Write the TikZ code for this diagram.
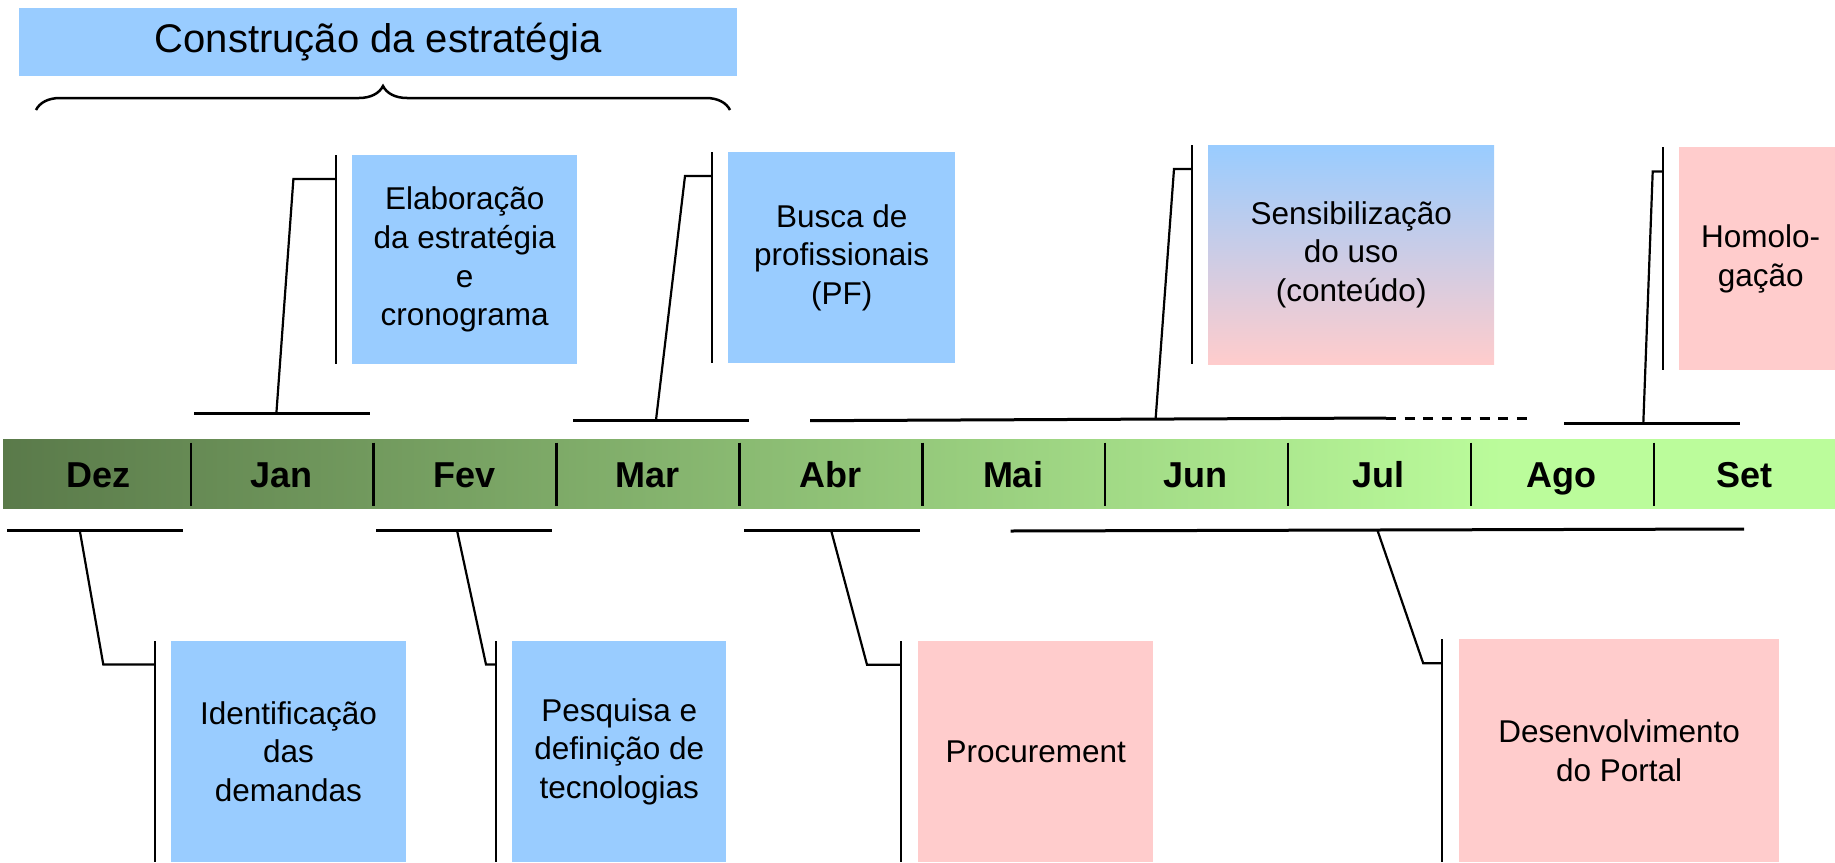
\documentclass[tikz,border=0pt]{standalone}
\usepackage{fontspec}
\setmainfont{Liberation Sans}
\usetikzlibrary{calc,decorations.pathreplacing}

\definecolor{azul}{RGB}{153,204,255}
\definecolor{rosa}{RGB}{255,204,204}
\definecolor{verdeesc}{RGB}{90,122,74}
\definecolor{verdecla}{RGB}{187,252,155}
\pgfdeclarehorizontalshading{faixa}{100bp}{color(0bp)=(verdeesc); color(25bp)=(verdeesc); color(66bp)=(verdecla); color(100bp)=(verdecla)}

\begin{document}
\begin{tikzpicture}[x=1pt,y=-1pt,
    caixa/.style={fill=azul,inner sep=0pt,align=center,anchor=north west,font=\fontsize{31.5}{38.6}\selectfont},
    mes/.style={anchor=base,font=\fontsize{36}{40}\selectfont\bfseries},
    barra/.style={line width=3pt},
    haste/.style={line width=2.2pt}]

    \useasboundingbox (0,0) rectangle (1835,862);
    \clip (0,0) rectangle (1835,862);

    % Titulo e chave
    \node[caixa,minimum width=718pt,minimum height=68pt,font=\fontsize{40}{48}\selectfont] (titulo) at (19,8) {Construção da estratégia};
    \coordinate (chaveA) at (36,110);
    \coordinate (chaveB) at (730,110);
    \draw[line width=2.5pt,decorate,decoration={brace,amplitude=24pt}] (chaveA) -- (chaveB);

    % Faixa dos meses
    \shade[shading=faixa] (3,439) rectangle (1835,508);
    \foreach \i in {1,...,9}
        \draw[line width=2.4pt] (7.8+182.9*\i,442.7) -- ++(0,63.3);
    \foreach \m [count=\i from 0] in {Dez,Jan,Fev,Mar,Abr,Mai,Jun,Jul,Ago,Set}
        \node[mes] (\m) at (98.5+182.9*\i,487.5) {\m};

    % Elaboracao da estrategia (Jan)
    \node[caixa,minimum width=225pt,minimum height=209pt] (elab) at (352,155) {Elaboração\\da estratégia\\e\\cronograma};
    \coordinate (elabA) at (194,413);
    \coordinate (elabB) at (370,413);
    \coordinate (elabP) at (276.4,413);
    \coordinate (elabK) at (293.4,179);
    \coordinate (elabT) at ([xshift=-16pt]elab.north west);
    \draw[barra] (elabA) -- (elabB);
    \draw[haste] (elabP) -- (elabK) -- (elabK -| elabT);
    \draw[haste] (elabT) -- (elabT |- elab.south);

    % Busca de profissionais (Mar)
    \node[caixa,minimum width=227pt,minimum height=211pt] (busca) at (728,152) {Busca de\\profissionais\\(PF)};
    \coordinate (buscaA) at (573,420);
    \coordinate (buscaB) at (749,420);
    \coordinate (buscaP) at (656,420);
    \coordinate (buscaK) at (685,176);
    \coordinate (buscaT) at ([xshift=-16pt]busca.north west);
    \draw[barra] (buscaA) -- (buscaB);
    \draw[haste] (buscaP) -- (buscaK) -- (buscaK -| buscaT);
    \draw[haste] (buscaT) -- (buscaT |- busca.south);

    % Sensibilizacao do uso (Abr a Ago)
    \node[caixa,top color=azul,bottom color=rosa,minimum width=286pt,minimum height=219pt] (sens) at (1208,145) {Sensibilização\\do uso\\(conteúdo)};
    \coordinate (sensA) at (810,420.7);
    \coordinate (sensB) at (1386,418);
    \coordinate (sensC) at (1528,418);
    \coordinate (sensP) at ($(sensA)!0.6!(sensB)$);
    \coordinate (sensK) at (1174,169);
    \coordinate (sensT) at ([xshift=-16pt]sens.north west);
    \draw[barra] (sensA) -- (sensB);
    \draw[barra,dash pattern=on 10pt off 8.7pt] (sensB) -- (sensC);
    \draw[haste] (sensP) -- (sensK) -- (sensK -| sensT);
    \draw[haste] (sensT) -- (sensT |- sens.south);

    % Homologacao (Set)
    \node[caixa,fill=rosa,minimum width=163pt,minimum height=223pt] (homol) at (1679,147) {Homolo-\\gação};
    \coordinate (homolA) at (1564,423.3);
    \coordinate (homolB) at (1740,423.3);
    \coordinate (homolP) at (1643.3,423.3);
    \coordinate (homolK) at (1652.7,171.5);
    \coordinate (homolT) at ([xshift=-16pt]homol.north west);
    \draw[barra] (homolA) -- (homolB);
    \draw[haste] (homolP) -- (homolK) -- (homolK -| homolT);
    \draw[haste] (homolT) -- (homolT |- homol.south);

    % Identificacao das demandas (Dez)
    \node[caixa,minimum width=234.5pt,minimum height=221pt] (ident) at (171,641) {Identificação\\das\\demandas};
    \coordinate (identA) at (7,530.7);
    \coordinate (identB) at (183,530.7);
    \coordinate (identP) at (79.8,530.7);
    \coordinate (identK) at (103.3,664.5);
    \coordinate (identT) at ([xshift=-16pt]ident.north west);
    \draw[barra] (identA) -- (identB);
    \draw[haste] (identP) -- (identK) -- (identK -| identT);
    \draw[haste] (identT) -- (identT |- ident.south);

    % Pesquisa e definicao de tecnologias (Fev)
    \node[caixa,minimum width=214pt,minimum height=221pt] (pesq) at (512,641) {Pesquisa e\\definição de\\tecnologias};
    \coordinate (pesqA) at (376,530.3);
    \coordinate (pesqB) at (552,530.3);
    \coordinate (pesqP) at (457,530.3);
    \coordinate (pesqK) at (486,664.5);
    \coordinate (pesqT) at ([xshift=-16pt]pesq.north west);
    \draw[barra] (pesqA) -- (pesqB);
    \draw[haste] (pesqP) -- (pesqK) -- (pesqK -| pesqT);
    \draw[haste] (pesqT) -- (pesqT |- pesq.south);

    % Procurement (Abr)
    \node[caixa,fill=rosa,minimum width=235pt,minimum height=221pt] (proc) at (918,641) {Procurement};
    \coordinate (procA) at (744,530);
    \coordinate (procB) at (920,530);
    \coordinate (procP) at (831,530);
    \coordinate (procK) at (867,664.7);
    \coordinate (procT) at ([xshift=-17pt]proc.north west);
    \draw[barra] (procA) -- (procB);
    \draw[haste] (procP) -- (procK) -- (procK -| procT);
    \draw[haste] (procT) -- (procT |- proc.south);

    % Desenvolvimento do Portal (Mai a Set)
    \node[caixa,fill=rosa,minimum width=320pt,minimum height=223pt] (desenv) at (1459,639) {Desenvolvimento\\do Portal};
    \coordinate (desenvA) at (1010.7,531);
    \coordinate (desenvB) at (1744,529);
    \coordinate (desenvP) at ($(desenvA)!0.5!(desenvB)$);
    \coordinate (desenvK) at (1423.2,663.3);
    \coordinate (desenvT) at ([xshift=-17pt]desenv.north west);
    \draw[barra] (desenvA) -- (desenvB);
    \draw[haste] (desenvP) -- (desenvK) -- (desenvK -| desenvT);
    \draw[haste] (desenvT) -- (desenvT |- desenv.south);
\end{tikzpicture}
\end{document}
